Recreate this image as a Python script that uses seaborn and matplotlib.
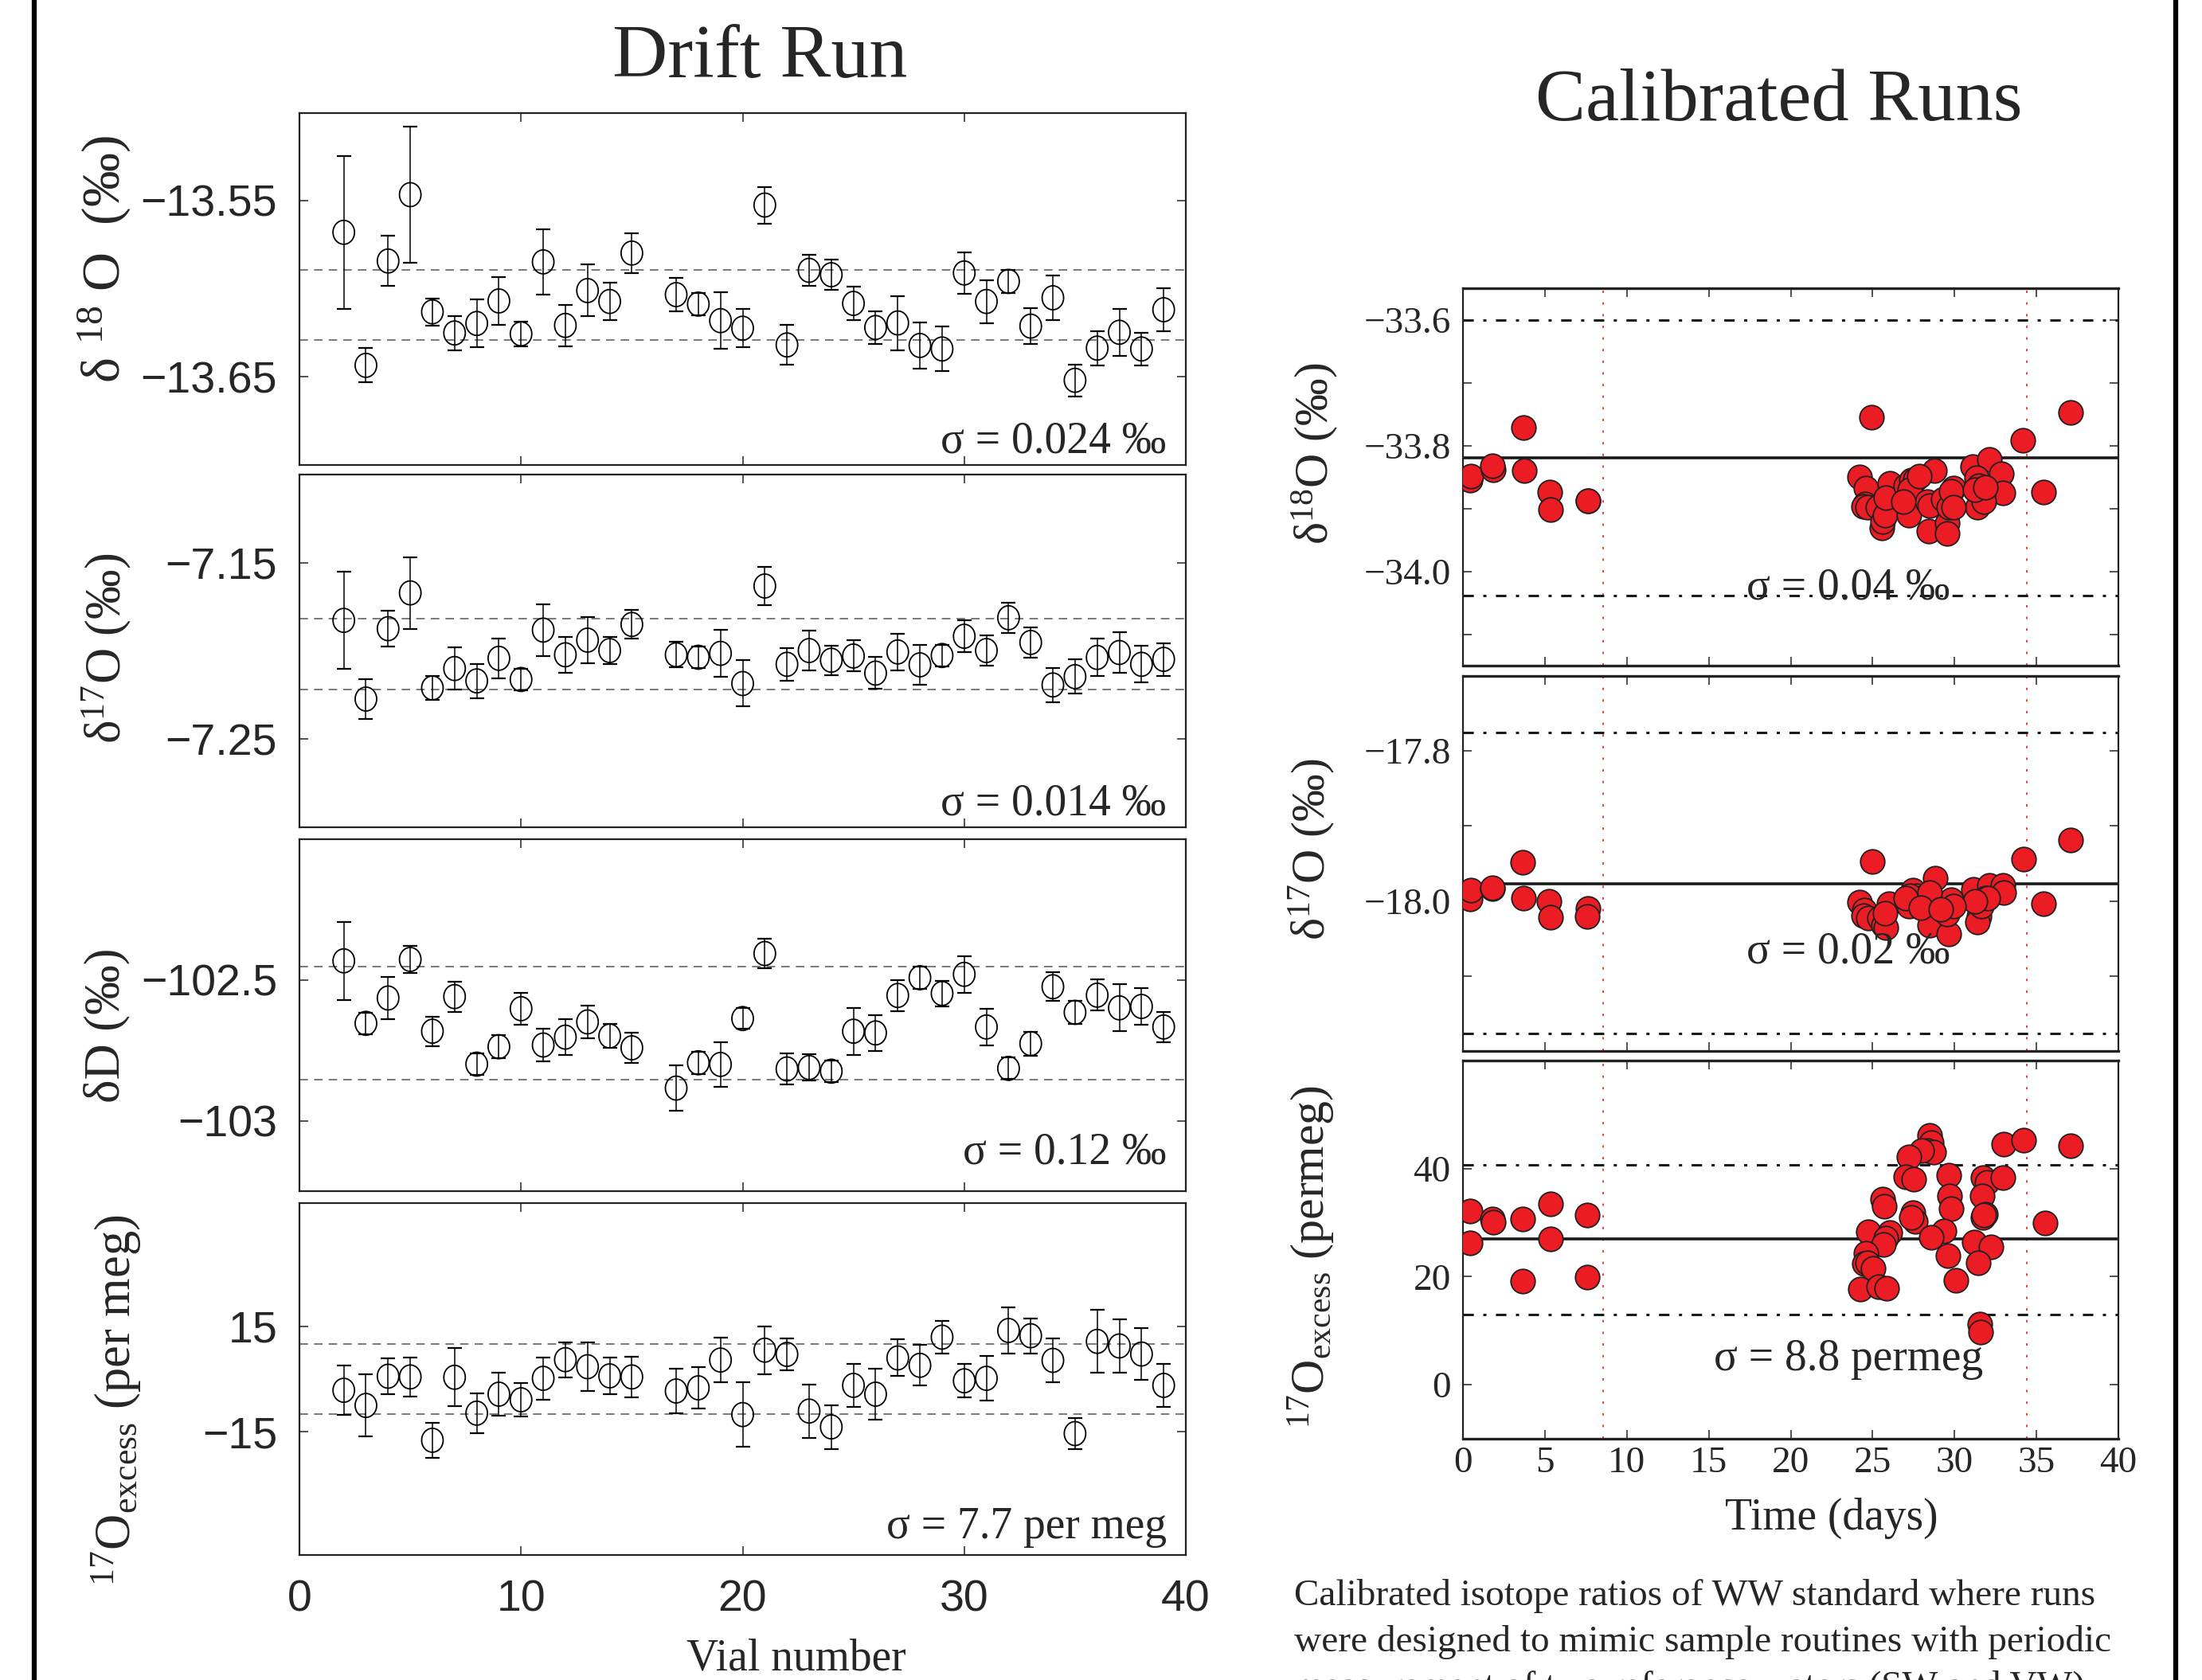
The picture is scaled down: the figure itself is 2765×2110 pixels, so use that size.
import numpy as np
import pandas as pd
import matplotlib
matplotlib.use("Agg")
import matplotlib.pyplot as plt
import seaborn as sns
from matplotlib.path import Path
from matplotlib.lines import Line2D

# ---------------- data: drift run ----------------
vial = [2, 3, 4, 5, 6, 7, 8, 9, 10, 11, 12, 13, 14, 15,
        17, 18, 19, 20, 21, 22, 23, 24, 25, 26, 27, 28, 29, 30,
        31, 32, 33, 34, 35, 36, 37, 38, 39]

d18O_drift = [-13.568, -13.6436, -13.5843, -13.5466, -13.6132, -13.6252, -13.6198, -13.607,
              -13.6257, -13.5848, -13.6209, -13.6011, -13.6073, -13.5798,
              -13.6034, -13.6088, -13.6182, -13.6225, -13.5525, -13.632, -13.5896, -13.5921,
              -13.6084, -13.6221, -13.6195, -13.6323, -13.6343, -13.5911, -13.6073, -13.5959,
              -13.6213, -13.6052, -13.6521, -13.6338, -13.6248, -13.6343, -13.612]
d18O_err = [0.0435, 0.0097, 0.0142, 0.0387, 0.0077, 0.0097, 0.0136, 0.0134, 0.0071, 0.0187,
            0.0118, 0.0147, 0.0105, 0.0113, 0.0096, 0.0065, 0.016, 0.0109, 0.0104, 0.0113,
            0.0088, 0.0084, 0.0094, 0.0092, 0.0154, 0.0131, 0.0127, 0.0117, 0.0122, 0.0065,
            0.0101, 0.0128, 0.0091, 0.0098, 0.0134, 0.0094, 0.0123]

d17O_drift = [-7.1827, -7.2273, -7.1874, -7.1671, -7.221, -7.21, -7.217, -7.2042, -7.2162,
              -7.1882, -7.2022, -7.1939, -7.1998, -7.185,
              -7.2022, -7.2036, -7.2014, -7.2185, -7.1632, -7.2076, -7.1998, -7.2053, -7.2029,
              -7.2126, -7.2006, -7.2079, -7.2026, -7.1917, -7.1998, -7.1812, -7.1952, -7.2193,
              -7.2146, -7.2037, -7.2009, -7.2076, -7.2048]
d17O_err = [0.0274, 0.0114, 0.01, 0.0203, 0.0069, 0.012, 0.0097, 0.0114, 0.0062, 0.0146,
            0.0101, 0.013, 0.0076, 0.0082, 0.0072, 0.0062, 0.0132, 0.0131, 0.0109, 0.0093,
            0.0113, 0.0083, 0.0088, 0.009, 0.0103, 0.0112, 0.0062, 0.009, 0.0085, 0.0087,
            0.0087, 0.0097, 0.0097, 0.0107, 0.0116, 0.0104, 0.0093]

dD_drift = [-102.432, -102.654, -102.564, -102.427, -102.682, -102.559, -102.799, -102.737,
            -102.602, -102.731, -102.703, -102.649, -102.699, -102.741,
            -102.884, -102.794, -102.8, -102.637, -102.406, -102.816, -102.811, -102.824,
            -102.682, -102.688, -102.555, -102.492, -102.548, -102.48, -102.667, -102.814,
            -102.726, -102.524, -102.615, -102.554, -102.599, -102.594, -102.667]
dD_err = [0.139, 0.038, 0.076, 0.047, 0.052, 0.054, 0.039, 0.042, 0.056, 0.059, 0.064, 0.058,
          0.042, 0.054, 0.081, 0.04, 0.08, 0.037, 0.052, 0.054, 0.047, 0.038, 0.083, 0.064,
          0.055, 0.04, 0.045, 0.065, 0.066, 0.038, 0.042, 0.051, 0.04, 0.055, 0.083, 0.066, 0.053]

exc_drift = [-3.2, -7.5, 0.8, 0.6, -17.4, 0.5, -9.7, -4.3, -5.9, 0.2, 5.5, 3.5, 0.9, 0.6,
             -3.4, -2.5, 5.4, -10.1, 8.2, 7.0, -9.1, -13.6, -1.8, -4.3, 6.0, 3.9, 11.9, -0.5,
             0.2, 13.8, 12.3, 5.3, -15.5, 10.7, 9.4, 7.1, -1.8]
exc_err = [7.0, 8.8, 5.1, 5.5, 4.9, 8.3, 5.7, 6.0, 4.8, 6.0, 5.0, 7.0, 5.1, 5.8, 6.4, 5.8, 6.3,
           9.1, 6.8, 4.6, 7.6, 6.2, 6.1, 7.3, 5.2, 5.8, 4.7, 4.8, 6.3, 6.5, 5.0, 6.3, 4.4, 8.9,
           7.6, 7.3, 6.2]

drift_bands = [(-13.6294, -13.5895), (-7.2217, -7.1816), (-102.8538, -102.4528), (-10.0, 10.0)]
drift_sigma = ["σ = 0.024 ‰", "σ = 0.014 ‰", "σ = 0.12 ‰", "σ = 7.7 per meg"]

# ---------------- data: calibrated runs ----------------
t18 = [0.45, 0.51, 1.83, 1.78, 3.69, 3.72, 5.31, 5.37, 7.61, 7.62,
       24.94, 34.16, 35.42, 24.20, 24.61, 24.53, 24.44, 24.69, 25.33, 25.58, 25.61, 25.77,
       26.03, 25.82, 27.03, 27.36, 27.6, 27.2, 27.28, 28.78, 28.33, 28.49, 28.41, 29.3,
       29.54, 29.63, 29.95, 29.79, 29.54, 31.11, 32.13, 32.86, 32.94, 31.33, 31.49, 31.57,
       31.73, 31.4, 31.81, 31.24, 31.89, 27.84, 26.87, 29.95, 37.07]
d18O_cal = [-33.8555, -33.849, -33.8387, -33.832, -33.7719, -33.840, -33.8738, -33.902,
            -33.888, -33.8885,
            -33.755, -33.792, -33.8745, -33.850, -33.8674, -33.8928, -33.897, -33.898,
            -33.898, -33.9316, -33.921, -33.9105, -33.8606, -33.883, -33.864, -33.8555,
            -33.8535, -33.9105, -33.870, -33.8395, -33.889, -33.8957, -33.9359, -33.885,
            -33.923, -33.898, -33.868, -33.8725, -33.94, -33.8336, -33.8226, -33.845,
            -33.8754, -33.8513, -33.864, -33.8725, -33.881, -33.898, -33.8894, -33.870,
            -33.866, -33.849, -33.889, -33.898, -33.7473]

t17 = [0.45, 0.48, 1.78, 1.81, 3.64, 3.69, 5.26, 5.34, 7.61, 7.58,
       24.96, 34.24, 35.45, 24.2, 24.52, 24.44, 24.76, 25.41, 25.66, 25.82, 25.98, 25.74,
       27.2, 27.44, 27.69, 27.93, 28.33, 28.82, 28.5, 29.63, 29.79, 29.71, 29.54, 27.28,
       31.16, 32.13, 32.94, 33.02, 31.49, 31.4, 31.73, 31.89, 31.65, 32.05, 31.24, 28.5,
       27.03, 27.93, 29.95, 29.14, 37.07]
d17O_cal = [-17.997, -17.986, -17.983, -17.982, -17.948, -17.996, -18.0, -18.022, -18.0096,
            -18.021,
            -17.9476, -17.944, -18.004, -18.0018, -18.0124, -18.0195, -18.023, -18.023,
            -18.032, -18.0354, -18.0035, -18.016, -18.0071, -17.986, -17.993, -17.9965,
            -18.0, -17.970, -18.032, -18.044, -17.998, -18.0106, -18.0177, -17.993, -17.984,
            -17.979, -17.979, -17.989, -18.021, -18.028, -18.0, -17.9965, -18.007, -17.9965,
            -18.0, -17.989, -17.9965, -18.009, -18.007, -18.011, -17.919]

tex = [0.45, 0.45, 1.81, 1.87, 3.66, 3.66, 5.33, 5.33, 7.6, 7.6,
       28.46, 28.56, 28.33, 28.73, 28.0, 27.23, 27.03, 27.49, 29.66, 29.7, 29.79, 31.73,
       31.97, 32.94, 31.7, 31.89, 31.73, 31.81, 32.99, 34.24, 35.53, 25.61, 25.71, 27.44,
       27.6, 27.36, 29.38, 28.57, 24.73, 26.06, 25.82, 25.66, 31.21, 32.22, 29.59, 31.44,
       24.6, 24.52, 24.68, 25.01, 30.09, 24.27, 25.39, 25.87, 31.54, 31.6, 37.07]
exc_cal = [32.2, 26.3, 30.7, 30.1, 30.7, 19.2, 33.5, 27.0, 31.4, 19.9,
           46.2, 44.8, 43.3, 43.1, 43.3, 42.2, 38.5, 38.0, 38.8, 35.0, 32.6, 38.4, 37.5, 38.4,
           35.0, 31.6, 30.9, 31.4, 44.6, 45.3, 29.9, 34.3, 33.1, 31.9, 30.2, 30.9, 28.5, 27.3,
           28.3, 28.2, 27.2, 26.0, 26.4, 25.5, 23.9, 22.5, 24.3, 22.4, 22.6, 21.5, 19.4, 17.7,
           18.1, 17.9, 11.2, 9.7, 44.3]

cal_means = [-33.8195, -17.977, 26.96]
cal_limits = [(-34.039, -33.60), (-18.177, -17.775), (13.05, 40.76)]
cal_sigma = ["σ = 0.04 ‰", "σ = 0.02 ‰", "σ = 8.8 permeg"]
ref_days = [8.55, 34.42]

# ---------------- figure ----------------
W, H = 2765, 2110
sns.set_style("ticks")
plt.rcParams["font.family"] = ["Liberation Serif", "DejaVu Serif"]
plt.rcParams["mathtext.fontset"] = "custom"
plt.rcParams["mathtext.rm"] = "Liberation Serif"
plt.rcParams["mathtext.it"] = "Liberation Serif:italic"
plt.rcParams["mathtext.bf"] = "Liberation Serif:bold"
plt.rcParams["axes.unicode_minus"] = True

fig = plt.figure(figsize=(W / 100, H / 100), dpi=100)
PT = 0.72  # points per pixel at dpi 100


def add_ax(x0, x1, y0, y1):
    return fig.add_axes([x0 / W, 1 - y1 / H, (x1 - x0) / W, (y1 - y0) / H])


def ftext(x, y, s, **kw):
    fig.text(x / W, 1 - y / H, s, **kw)


theta = np.linspace(0, 2 * np.pi, 64)
ellipse = Path(np.column_stack([0.45 * np.cos(theta), 0.5 * np.sin(theta)]), closed=True)

left_rows = [(141.5, 583.5), (596, 1039), (1054, 1496), (1511, 1953)]
left_series = [(d18O_drift, d18O_err), (d17O_drift, d17O_err), (dD_drift, dD_err), (exc_drift, exc_err)]
left_ylim = [(-13.70, -13.50), (-7.30, -7.10), (-103.25, -102.0), (-50, 50)]
left_yticks = [[-13.65, -13.55], [-7.25, -7.15], [-103, -102.5], [-15, 15]]
left_yticklabels = [["−13.65", "−13.55"], ["−7.25", "−7.15"], ["−103", "−102.5"], ["−15", "15"]]
left_sigma_y = [0.033, 0.034, 0.077, 0.048]
sans = ["Liberation Sans", "DejaVu Sans"]

for i, ((y0, y1), (vals, errs)) in enumerate(zip(left_rows, left_series)):
    ax = add_ax(376, 1489, y0, y1)
    df = pd.DataFrame({"vial": vial, "val": vals, "err": errs})
    ax.errorbar(df["vial"], df["val"], yerr=df["err"], fmt="none", ecolor="black",
                elinewidth=1.1, capsize=6.5, capthick=1.6, zorder=2)
    sns.scatterplot(data=df, x="vial", y="val", ax=ax, marker=ellipse, s=(30 * PT) ** 2,
                    facecolor="none", edgecolor="black", linewidth=1.3, zorder=3)
    for yb in drift_bands[i]:
        ax.axhline(yb, color="#555555", lw=1.1, dashes=(7, 5), zorder=1)
    ax.set_xlim(0, 40)
    ax.set_ylim(*left_ylim[i])
    ax.set_xticks([0, 10, 20, 30, 40])
    ax.set_yticks(left_yticks[i])
    ax.set_yticklabels(left_yticklabels[i], fontfamily=sans, fontsize=40)
    if i == 3:
        ax.set_xticklabels(["0", "10", "20", "30", "40"], fontfamily=sans, fontsize=40)
    else:
        ax.set_xticklabels([])
    ax.tick_params(direction="in", length=8, width=1.2, top=True, right=True, color="#333333")
    ax.tick_params(axis="y", pad=20)
    ax.tick_params(axis="x", pad=22)
    ax.set_xlabel("")
    ax.set_ylabel("")
    for sp in ax.spines.values():
        sp.set_linewidth(1.6)
        sp.set_color("#222222")
    ax.text(0.978, left_sigma_y[i], drift_sigma[i], transform=ax.transAxes, ha="right",
            va="baseline", fontsize=40)

# left y-labels
ftext(132, 325, "δ $^{18}$ O  (‰)", rotation=90, ha="center", va="center", fontsize=49)
ftext(134, 814, "δ$^{17}$O (‰)", rotation=90, ha="center", va="center", fontsize=45)
ftext(134, 1288, "δD (‰)", rotation=90, ha="center", va="center", fontsize=45)
ftext(146, 1759, "$^{17}$O$_{\\mathrm{excess}}$ (per meg)", rotation=90, ha="center",
      va="center", fontsize=45)
ftext(1000, 2084, "Vial number", ha="center", va="center", fontsize=40)
ftext(954, 74, "Drift Run", ha="center", va="center", fontsize=69)

# right panels
right_rows = [(362, 836), (849, 1320), (1332, 1807)]
right_series = [(t18, d18O_cal), (t17, d17O_cal), (tex, exc_cal)]
right_ylim = [(-34.15, -33.55), (-18.2, -17.7), (-10, 60)]
right_yticks = [[-34.1, -34.0, -33.9, -33.8, -33.7, -33.6], [-18.1, -18.0, -17.9, -17.8], [0, 20, 40]]
right_yticklabels = [["", "−34.0", "", "−33.8", "", "−33.6"], ["", "−18.0", "", "−17.8"], ["0", "20", "40"]]
right_sigma_pos = [(0.432, 0.177), (0.432, 0.234), (0.383, 0.181)]

for i, ((y0, y1), (tt, vv)) in enumerate(zip(right_rows, right_series)):
    ax = add_ax(1837, 2660, y0, y1)
    df = pd.DataFrame({"time": tt, "val": vv})
    for d in ref_days:
        ax.axvline(d, color="#EE2A2A", lw=1.3, dashes=(1.6, 6.5), zorder=1)
    ax.axhline(cal_means[i], color="#1a1a1a", lw=2.6, zorder=2)
    for yl in cal_limits[i]:
        ax.axhline(yl, color="#1a1a1a", lw=2.2, dashes=(4.3, 3.9, 1.3, 3.9), zorder=2)
    sns.scatterplot(data=df, x="time", y="val", ax=ax, s=(30.5 * PT) ** 2, color="#EC1C24",
                    edgecolor="#231F20", linewidth=1.3, zorder=3)
    ax.set_xlim(0, 40)
    ax.set_ylim(*right_ylim[i])
    ax.set_xticks(range(0, 41, 5))
    if i == 2:
        ax.set_xticklabels([str(v) for v in range(0, 41, 5)], fontsize=34)
    else:
        ax.set_xticklabels([])
    ax.set_yticks(right_yticks[i])
    ax.set_yticklabels(right_yticklabels[i], fontsize=34)
    ax.tick_params(direction="in", length=8, width=1.2, top=True, right=True, color="#333333")
    ax.tick_params(axis="y", pad=11)
    ax.tick_params(axis="x", pad=7)
    ax.set_xlabel("")
    ax.set_ylabel("")
    for name, sp in ax.spines.items():
        sp.set_linewidth(2.4 if name in ("top", "bottom") else 1.6)
        sp.set_color("#222222")
    ax.text(right_sigma_pos[i][0], right_sigma_pos[i][1], cal_sigma[i], transform=ax.transAxes,
            ha="left", va="baseline", fontsize=40)

ftext(1651, 570, "δ$^{18}$O (‰)", rotation=90, ha="center", va="center", fontsize=43)
ftext(1647, 1067, "δ$^{17}$O (‰)", rotation=90, ha="center", va="center", fontsize=43)
ftext(1647, 1578, "$^{17}$O$_{\\mathrm{excess}}$ (permeg)", rotation=90, ha="center",
      va="center", fontsize=43)
ftext(2300, 1907, "Time (days)", ha="center", va="center", fontsize=40)
ftext(2234, 129, "Calibrated Runs", ha="center", va="center", fontsize=68)

caption = ["Calibrated isotope ratios of WW standard where runs",
           "were designed to mimic sample routines with periodic",
           "measurement of two reference waters (SW and VW)"]
for k, line in enumerate(caption):
    ftext(1625, 2005 + 57 * k, line, ha="left", va="center", fontsize=34)

# frame lines
fig.add_artist(Line2D([43 / W, 43 / W], [0, 1], color="black", lw=4.5, transform=fig.transFigure))
fig.add_artist(Line2D([2732 / W, 2732 / W], [0, 1], color="black", lw=4.5, transform=fig.transFigure))

fig.savefig("out.png", dpi=100)
